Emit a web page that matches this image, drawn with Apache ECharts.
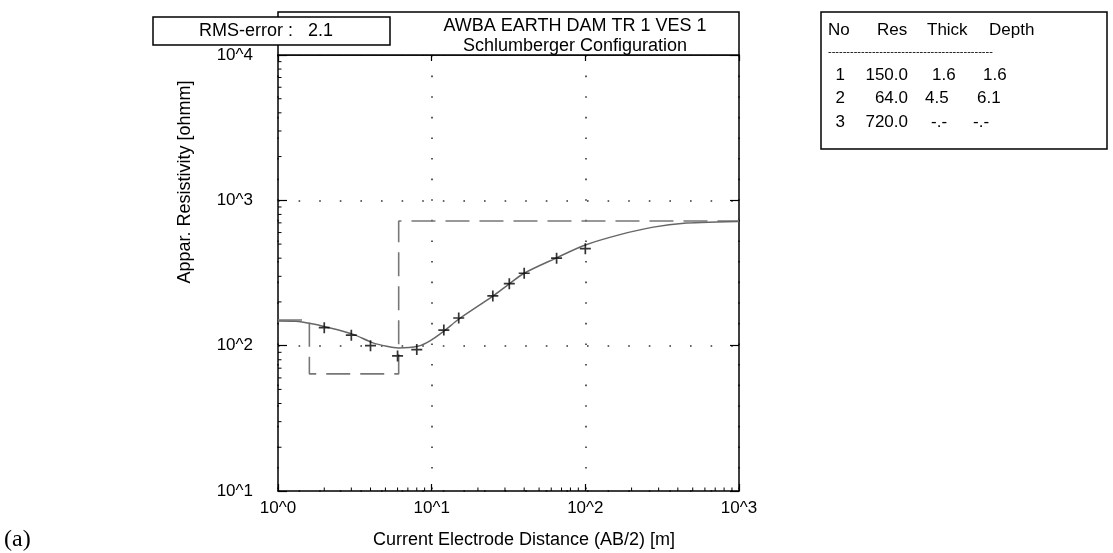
<!DOCTYPE html>
<html>
<head>
<meta charset="utf-8">
<script src="https://cdn.jsdelivr.net/npm/echarts@6/dist/echarts.min.js"></script>
<style>
html,body{margin:0;padding:0;background:#fff;}
#chart{width:1113px;height:553px;}
</style>
</head>
<body>
<div id="chart"></div>
<script>
// ---- data ----
const xTickLabels = ['10^0', '10^1', '10^2', '10^3'];
const yTickLabels = ['10^1', '10^2', '10^3', '10^4'];
const abHalf = [2, 3, 4, 6, 8, 12, 15, 25, 32, 40, 65, 100];
const rhoApp = [133, 118, 100, 85, 94, 128, 155, 220, 267, 315, 400, 465];
const curveX = [1, 1.3, 1.63, 2.02, 3.06, 4.11, 5.1, 6.06, 8.11, 9.75, 12, 15, 25, 31.5, 40, 64, 99, 168, 277, 456, 715, 1000];
const curveY = [148, 147, 142, 135, 120, 105, 99, 96.5, 99, 108, 126, 152, 219, 263, 315, 399, 491, 581, 654, 698, 710, 716];
const layerNo = [1, 2, 3];
const layerRes = ['150.0', '64.0', '720.0'];
const layerThick = ['1.6', '4.5', '-.-'];
const layerDepth = ['1.6', '6.1', '-.-'];
const modelRes = [150, 64, 720];
const modelDepth = [1.6, 6.1];
const rmsError = '2.1';
const titleLines = ['AWBA EARTH DAM TR 1 VES 1', 'Schlumberger Configuration'];
const xAxisTitle = 'Current Electrode Distance (AB/2) [m]';
const yAxisTitle = 'Appar. Resistivity [ohmm]';
const xMinorTicks = [2,3,4,5,6,7,8,9,20,30,40,50,60,70,80,90,200,300,400,500,600,700,800,900];
const yMinorTicks = [20,30,40,50,60,70,80,90,200,300,400,500,600,700,800,900,2000,3000,4000,5000,6000,7000,8000,9000];

// ---- derived ----
const FONT = '"Liberation Sans", Arial, sans-serif';
const points = abHalf.map((x, i) => [x, rhoApp[i]]);
const curve = curveX.map((x, i) => [x, curveY[i]]);
const step = [[1, modelRes[0]]];
modelDepth.forEach((d, i) => { step.push([d, modelRes[i]]); step.push([d, modelRes[i + 1]]); });
step.push([1000, modelRes[modelRes.length - 1]]);

const G = {left: 278, top: 55, width: 461, height: 436};

const chart = echarts.init(document.getElementById('chart'), null, {renderer: 'canvas'});

const axisBase = {
  type: 'log', logBase: 10,
  axisLine: {show: true, onZero: false, lineStyle: {color: '#000', width: 1.5}},
  axisTick: {show: true, inside: true, length: 9, lineStyle: {color: '#000', width: 1.2}},
  minorTick: {show: false}
};
const dotted = {show: true, lineStyle: {color: '#333', width: 1.6, type: [1.6, 19]}};

const txt = (x, y, t, size, align) => ({type: 'text', z: 11, x: x, y: y,
  style: {text: t, font: size + 'px ' + FONT, fill: '#000', textAlign: align || 'left', textVerticalAlign: 'middle'}});

const tableGraphics = [];
[['No', 828], ['Res', 877], ['Thick', 927], ['Depth', 989]].forEach(([t, x]) => {
  tableGraphics.push(txt(x, 30, t, 17));
});
tableGraphics.push(txt(828, 52, '-'.repeat(45), 11));
layerNo.forEach((n, i) => {
  const y = 75 + i * 23.5;
  tableGraphics.push(txt(845, y, String(n), 17, 'right'));
  tableGraphics.push(txt(908, y, layerRes[i], 17, 'right'));
  tableGraphics.push(txt(layerThick[i] === '-.-' ? 931 : (i === 0 ? 932 : 925), y, layerThick[i], 17));
  tableGraphics.push(txt(layerDepth[i] === '-.-' ? 973 : (i === 0 ? 983 : 977), y, layerDepth[i], 17));
});

const option = {
  backgroundColor: '#fff',
  animation: false,
  grid: {left: G.left, top: G.top, width: G.width, height: G.height, containLabel: false},
  xAxis: [
    Object.assign({}, axisBase, {
      position: 'bottom', min: 1, max: 1000,
      axisLabel: {show: true, margin: 9, color: '#000', fontSize: 17, fontFamily: FONT,
        formatter: v => xTickLabels[Math.round(Math.log10(v))]},
      axisTick: {show: true, inside: true, length: 7, lineStyle: {color: '#000', width: 1.2}},
      splitLine: dotted
    }),
    Object.assign({}, axisBase, {
      position: 'top', min: 1, max: 1000,
      axisLabel: {show: false},
      axisTick: {show: true, inside: true, length: 6, lineStyle: {color: '#000', width: 1.2}},
      splitLine: {show: false}
    })
  ],
  yAxis: [
    Object.assign({}, axisBase, {
      position: 'left', min: 10, max: 10000,
      axisLabel: {show: true, margin: 25, color: '#000', fontSize: 17, fontFamily: FONT,
        formatter: v => yTickLabels[Math.round(Math.log10(v)) - 1]},
      splitLine: dotted
    }),
    Object.assign({}, axisBase, {
      position: 'right', min: 10, max: 10000,
      axisLabel: {show: false},
      splitLine: {show: false}
    })
  ],
  series: [
    {
      type: 'custom', name: 'xminor', xAxisIndex: 0, yAxisIndex: 0, clip: false, silent: true, z: 5,
      data: xMinorTicks.map(v => [v]),
      renderItem: (params, api) => {
        const p = api.coord([api.value(0), 10]);
        return {type: 'line', shape: {x1: p[0], y1: p[1], x2: p[0], y2: p[1] - 3.5}, style: {stroke: '#000', lineWidth: 1}};
      }
    },
    {
      type: 'custom', name: 'yminor', xAxisIndex: 0, yAxisIndex: 0, clip: false, silent: true, z: 5,
      data: yMinorTicks.map(v => [v]),
      renderItem: (params, api) => {
        const p = api.coord([1, api.value(0)]);
        return {type: 'line', shape: {x1: p[0], y1: p[1], x2: p[0] + 3.5, y2: p[1]}, style: {stroke: '#000', lineWidth: 1}};
      }
    },
    {
      type: 'line', name: 'model', data: step, showSymbol: false, symbol: 'none', z: 3,
      lineStyle: {color: '#777', width: 1.6, type: [24, 10]}
    },
    {
      type: 'line', name: 'curve', data: curve, showSymbol: false, symbol: 'none', smooth: 0.3, z: 4,
      lineStyle: {color: '#666', width: 1.5}
    },
    {
      type: 'scatter', name: 'measured', data: points, z: 6,
      symbol: 'path://M0,5 L10,5 M5,0 L5,10', symbolSize: 11,
      itemStyle: {color: 'rgba(0,0,0,0)', borderColor: '#000', borderWidth: 1.7}
    }
  ],
  graphic: [
    {type: 'rect', z: 10, shape: {x: G.left, y: 12, width: G.width, height: G.top - 12},
      style: {fill: '#fff', stroke: '#000', lineWidth: 1.5}},
    txt(575, 26, titleLines[0], 18, 'center'),
    txt(575, 46, titleLines[1], 18, 'center'),
    {type: 'rect', z: 12, shape: {x: 153, y: 17, width: 237, height: 28},
      style: {fill: '#fff', stroke: '#000', lineWidth: 1.5}},
    Object.assign(txt(266, 31, 'RMS-error :   ' + rmsError, 18, 'center'), {z: 13}),
    {type: 'rect', z: 10, shape: {x: 821, y: 12, width: 286, height: 137},
      style: {fill: '#fff', stroke: '#000', lineWidth: 1.5}},
    ...tableGraphics,
    Object.assign(txt(185, 182, yAxisTitle, 18, 'center'), {rotation: Math.PI / 2}),
    txt(524, 540, xAxisTitle, 18, 'center'),
    {type: 'text', z: 11, x: 4, y: 540, style: {text: '(a)', font: '24px "Liberation Serif", "Times New Roman", serif', fill: '#000', textAlign: 'left', textVerticalAlign: 'middle'}}
  ]
};
chart.setOption(option);
</script>
</body>
</html>
